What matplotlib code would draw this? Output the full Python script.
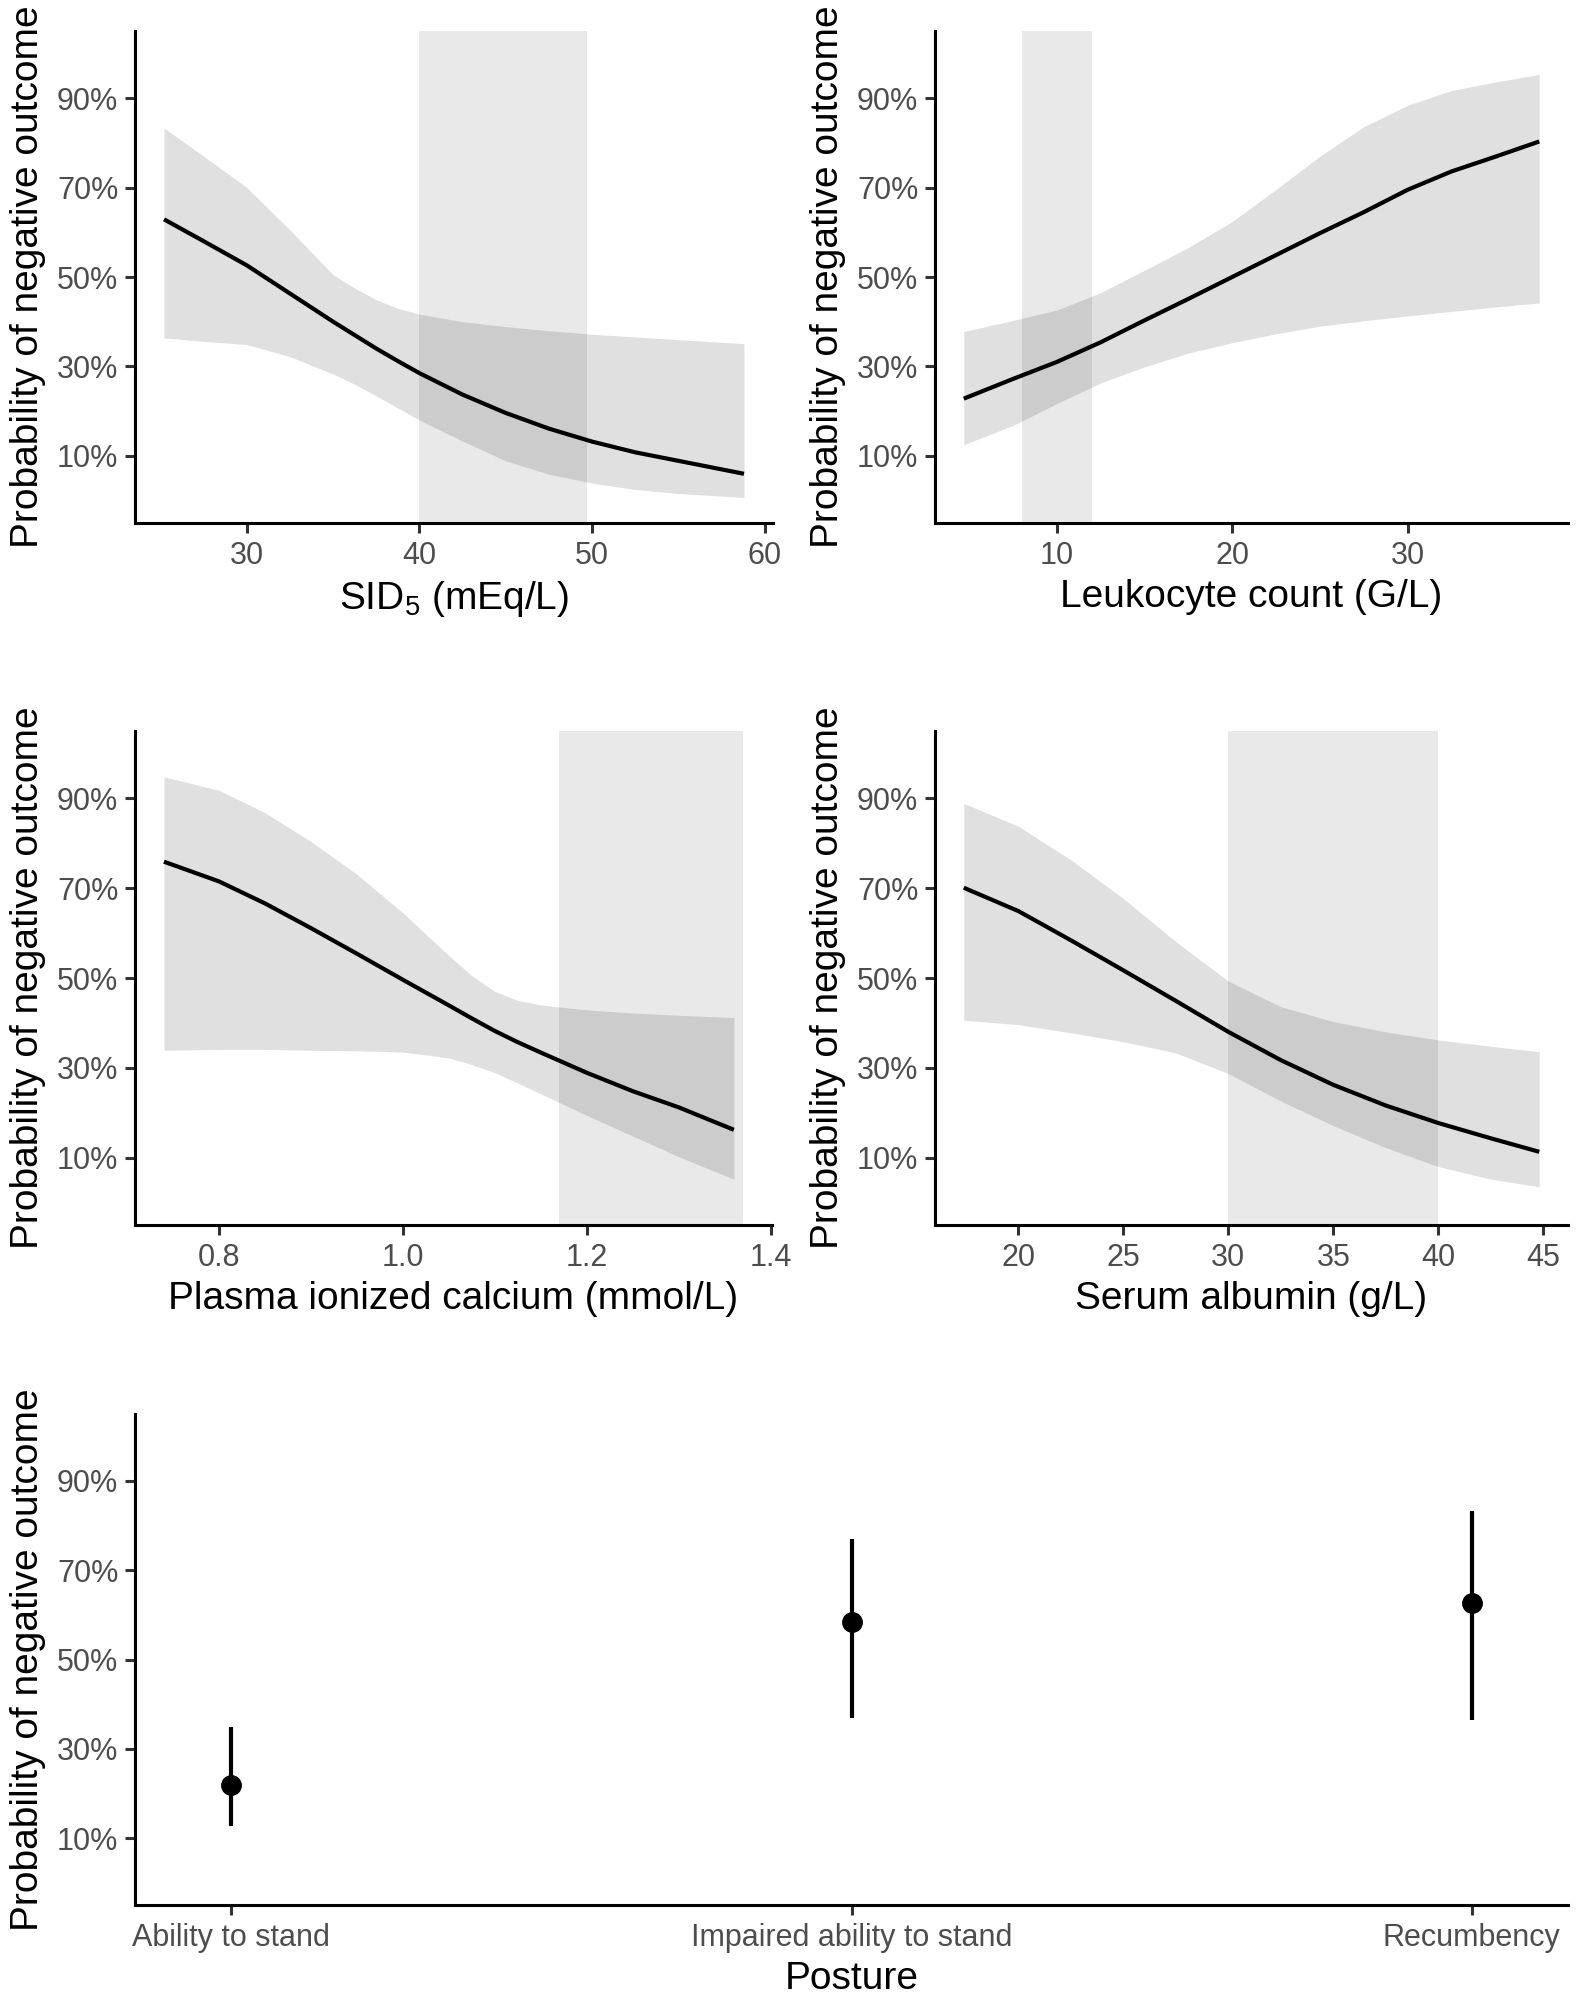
import matplotlib
matplotlib.use("Agg")
import matplotlib.pyplot as plt
from matplotlib.ticker import FuncFormatter

plt.rcParams['font.family'] = ['Liberation Sans', 'DejaVu Sans']
plt.rcParams['mathtext.fontset'] = 'custom'
plt.rcParams['mathtext.rm'] = 'Liberation Sans'
plt.rcParams['mathtext.it'] = 'Liberation Sans:italic'

# ---------------- data (probabilities in %) ----------------
# Panel 1: SID5
sid_x   = [25.2, 27.5, 30, 32.5, 35, 36.25, 37.5, 38.75, 40, 42.5, 45, 47.5, 50, 52.5, 55, 58.8]
sid_fit = [62.9, 58.0, 52.6, 46.3, 40.0, 37.0, 34.0, 31.2, 28.5, 23.7, 19.6, 16.1, 13.2, 10.8, 8.9, 6.0]
sid_lo  = [36.4, 35.6, 34.9, 32.2, 28.3, 26.0, 23.4, 20.7, 18.0, 13.3, 8.9, 5.9, 3.9, 2.5, 1.6, 0.7]
sid_hi  = [83.3, 77.0, 70.0, 60.5, 50.5, 47.5, 44.9, 43.0, 41.7, 40.0, 38.9, 38.0, 37.2, 36.6, 36.0, 35.1]
sid_ref = [40, 49.7]

# Panel 2: Leukocyte count
leu_x   = [4.7, 7.5, 10, 12.5, 15, 17.5, 20, 22.5, 25, 27.5, 30, 32.5, 35, 37.5]
leu_fit = [22.8, 27.2, 31.0, 35.4, 40.3, 45.1, 50.0, 54.9, 59.8, 64.5, 69.5, 73.6, 76.9, 80.3]
leu_lo  = [12.5, 16.8, 21.7, 26.3, 29.9, 33.0, 35.3, 37.3, 39.0, 40.2, 41.3, 42.3, 43.3, 44.2]
leu_hi  = [37.8, 40.3, 42.6, 46.5, 51.5, 56.6, 62.4, 69.6, 77.0, 83.6, 88.4, 91.7, 93.6, 95.3]
leu_ref = [8, 12]

# Panel 3: Plasma ionized calcium
ca_x   = [0.74, 0.80, 0.85, 0.90, 0.95, 1.00, 1.05, 1.075, 1.10, 1.125, 1.15, 1.20, 1.25, 1.30, 1.36]
ca_fit = [75.9, 71.5, 66.6, 61.1, 55.4, 49.6, 43.9, 41.0, 38.2, 35.7, 33.4, 28.9, 24.8, 21.2, 16.2]
ca_lo  = [33.9, 34.1, 34.1, 33.9, 33.8, 33.5, 32.2, 30.7, 28.9, 26.6, 24.2, 19.4, 14.8, 10.2, 5.2]
ca_hi  = [94.8, 91.8, 86.8, 80.4, 73.1, 64.5, 55.0, 50.5, 47.0, 45.0, 44.0, 42.9, 42.2, 41.7, 41.2]
ca_ref = [1.17, 1.37]

# Panel 4: Serum albumin
alb_x   = [17.4, 20, 22.5, 25, 27.5, 30, 32.5, 35, 37.5, 40, 42.5, 44.8]
alb_fit = [70.1, 64.9, 58.4, 51.7, 44.9, 38.0, 31.7, 26.2, 21.6, 17.7, 14.3, 11.3]
alb_lo  = [40.6, 39.6, 37.8, 35.8, 33.3, 28.7, 22.6, 17.1, 12.2, 8.0, 5.2, 3.5]
alb_hi  = [88.9, 83.8, 76.3, 67.7, 58.1, 49.3, 43.6, 40.3, 38.0, 36.2, 34.8, 33.6]
alb_ref = [30, 40]

# Panel 5: Posture
posture     = ["Ability to stand", "Impaired ability to stand", "Recumbency"]
posture_est = [21.8, 58.4, 62.6]
posture_lo  = [12.6, 37.0, 36.4]
posture_hi  = [34.9, 76.9, 83.2]

y_ticks = [10, 30, 50, 70, 90]
ylabel = "Probability of negative outcome"

# ---------------- figure ----------------
W, H = 1576, 1997
fig = plt.figure(figsize=(W / 100, H / 100), dpi=100)

TICK_FS = 22
LAB_FS = 28
TICK_COL = '#4D4D4D'


def add_ax(l, r, t, b):
    return fig.add_axes([l / W, 1 - b / H, (r - l) / W, (b - t) / H])


def style(ax):
    for s in ['top', 'right']:
        ax.spines[s].set_visible(False)
    for s in ['left', 'bottom']:
        ax.spines[s].set_linewidth(2.2)
        ax.spines[s].set_color('black')
    ax.tick_params(axis='both', length=7, width=2.2, color='#333333',
                   labelsize=TICK_FS, labelcolor=TICK_COL)
    ax.tick_params(axis='y', pad=5)
    ax.tick_params(axis='x', pad=6)
    ax.set_ylim(-5, 105)
    ax.set_yticks(y_ticks)
    ax.yaxis.set_major_formatter(FuncFormatter(lambda v, p: f"{v:.0f}%"))
    ax.set_ylabel(ylabel, fontsize=LAB_FS, color='black', labelpad=8)


def curve_panel(ax, x, fit, lo, hi, ref, xticks, xlabel, fmt=None):
    style(ax)
    ax.axvspan(ref[0], ref[1], color='black', alpha=0.085, lw=0, zorder=1)
    ax.fill_between(x, lo, hi, color='black', alpha=0.12, lw=0, zorder=2)
    ax.plot(x, fit, color='black', lw=3.0, zorder=3, solid_capstyle='butt',
            solid_joinstyle='round')
    xmin = min(min(x), ref[0])
    xmax = max(max(x), ref[1])
    pad = 0.05 * (xmax - xmin)
    ax.set_xlim(xmin - pad, xmax + pad)
    ax.set_xticks(xticks)
    if fmt:
        ax.set_xticklabels([fmt(v) for v in xticks])
    ax.set_xlabel(xlabel, fontsize=LAB_FS, color='black', labelpad=6)


ax1 = add_ax(135, 773, 31, 523)
curve_panel(ax1, sid_x, sid_fit, sid_lo, sid_hi, sid_ref, [30, 40, 50, 60],
            r'SID$_5$ (mEq/L)')

ax2 = add_ax(935, 1568, 31, 523)
curve_panel(ax2, leu_x, leu_fit, leu_lo, leu_hi, leu_ref, [10, 20, 30],
            'Leukocyte count (G/L)')

ax3 = add_ax(135, 772, 731, 1225)
curve_panel(ax3, ca_x, ca_fit, ca_lo, ca_hi, ca_ref, [0.8, 1.0, 1.2, 1.4],
            'Plasma ionized calcium (mmol/L)', fmt=lambda v: f"{v:.1f}")

ax4 = add_ax(935, 1568, 731, 1225)
curve_panel(ax4, alb_x, alb_fit, alb_lo, alb_hi, alb_ref, [20, 25, 30, 35, 40, 45],
            'Serum albumin (g/L)')

ax5 = add_ax(135, 1568, 1414, 1905)
style(ax5)
pos = list(range(1, len(posture) + 1))
ax5.vlines(pos, posture_lo, posture_hi, color='black', lw=3.0, zorder=2)
ax5.plot(pos, posture_est, 'o', color='black', ms=14, zorder=3)
ax5.set_xlim(0.845, 3.155)
ax5.set_xticks(pos)
ax5.set_xticklabels(posture)
ax5.set_xlabel('Posture', fontsize=LAB_FS, color='black', labelpad=6)

fig.savefig('out.png', dpi=100, facecolor='white')
